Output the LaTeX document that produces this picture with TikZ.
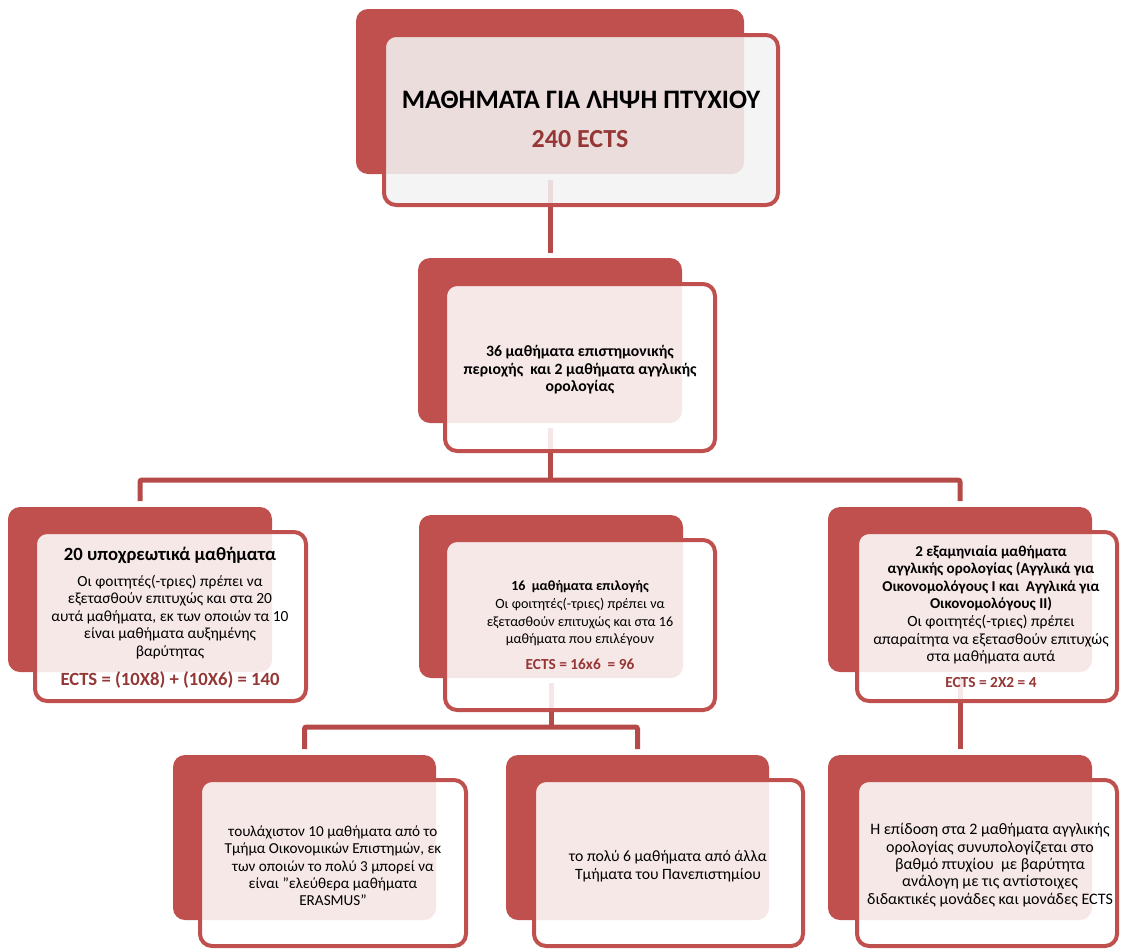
\documentclass[tikz,border=0pt]{standalone}
\usepackage{fontspec}
\setmainfont{Carlito}
\usetikzlibrary{calc}
\definecolor{boxred}{RGB}{192,80,77}
\definecolor{connred}{RGB}{181,74,72}
\definecolor{ectsred}{RGB}{149,55,53}
\definecolor{topfill}{RGB}{242,242,242}
\newcommand\upx{0.75pt}
\tikzset{
  backbox/.style={fill=boxred, draw=none, rounded corners=9pt, inner sep=0pt, outer sep=0pt},
  frontbox/.style={draw=boxred, line width=3pt, fill=white, fill opacity=0.87, rounded corners=9pt, inner sep=0pt, outer sep=0pt},
  conn/.style={draw=connred, line width=3.75pt, rounded corners=1.5pt},
  txt/.style={align=center, text=black, inner sep=0pt, font=\fontsize{11}{13.1}\selectfont},
  btxt/.style={txt, font=\bfseries\fontsize{11}{13.1}\selectfont},
  ects/.style={align=center, text=ectsred, inner sep=0pt, font=\bfseries\fontsize{11.5}{13}\selectfont},
}
\begin{document}
\begin{tikzpicture}[x=0.75pt, y=-0.75pt]
\useasboundingbox (0,0) rectangle (1121,950);

% back boxes
\node[backbox, minimum width=388*\upx, minimum height=165*\upx] (b1back) at (550,91.5) {};
\node[backbox, minimum width=264*\upx, minimum height=165*\upx] (b2back) at (550,340.5) {};
\node[backbox, minimum width=264*\upx, minimum height=165*\upx] (b3back) at (140,589.5) {};
\node[backbox, minimum width=264*\upx, minimum height=163*\upx] (b4back) at (551,596.5) {};
\node[backbox, minimum width=264*\upx, minimum height=165*\upx] (b5back) at (960,589.5) {};
\node[backbox, minimum width=263*\upx, minimum height=165*\upx] (b6back) at (304.5,837.5) {};
\node[backbox, minimum width=263*\upx, minimum height=165*\upx] (b7back) at (637.5,837.5) {};
\node[backbox, minimum width=264*\upx, minimum height=165*\upx] (b8back) at (960,837.5) {};

% connectors
\coordinate (j1) at ($(b3back.north)+(0,-27)$);
\coordinate (j2) at ($(b6back.north)+(0,-28)$);
\draw[conn] ($(b1back.south)+(0,6)$) -- ($(b2back.north)+(0,-5)$);
\draw[conn] ($(b2back.south)+(0,5)$) -- (b2back.south |- j1);
\draw[conn] ($(b3back.north)+(0,-6)$) |- ($(b5back.north)+(0,-27)$) -- ($(b5back.north)+(0,-6)$);
\draw[conn] ($(b4back.south)+(0,5)$) -- (b4back.south |- j2);
\draw[conn] ($(b6back.north)+(0,-6)$) |- ($(b7back.north)+(0,-28)$) -- ($(b7back.north)+(0,-6)$);
\draw[conn] ($(b5back.south)+(0,5)$) -- ($(b8back.north)+(0,-6)$);

% front boxes
\node[frontbox, fill=topfill, minimum width=394*\upx, minimum height=170*\upx] (b1) at (581,120) {};
\node[frontbox, minimum width=270*\upx, minimum height=167*\upx] (b2) at (580,367.5) {};
\node[frontbox, minimum width=271*\upx, minimum height=169*\upx] (b3) at (170.5,616.5) {};
\node[frontbox, minimum width=270*\upx, minimum height=170*\upx] (b4) at (580,625) {};
\node[frontbox, minimum width=260*\upx, minimum height=169*\upx] (b5) at (987,616.5) {};
\node[frontbox, minimum width=266*\upx, minimum height=166*\upx] (b6) at (333,863) {};
\node[frontbox, minimum width=269*\upx, minimum height=166*\upx] (b7) at (668.5,863) {};
\node[frontbox, minimum width=260*\upx, minimum height=166*\upx] (b8) at (987,863) {};

% texts
\node[btxt, font=\bfseries\fontsize{20}{24}\selectfont] (t1a) at (581,100) {ΜΑΘΗΜΑΤΑ ΓΙΑ ΛΗΨΗ ΠΤΥΧΙΟΥ};
\node[ects, font=\bfseries\fontsize{19.5}{22}\selectfont] (t1b) at (580,139) {240 ECTS};

\node[btxt, font=\bfseries\fontsize{11.8}{13.1}\selectfont] (t2) at (580,370) {36 μαθήματα επιστημονικής\\ περιοχής \ και 2 μαθήματα αγγλικής\\ ορολογίας};

\node[btxt, font=\bfseries\fontsize{14}{16}\selectfont] (t3a) at (170,555) {20 υποχρεωτικά μαθήματα};
\node[txt, font=\fontsize{11.6}{13.1}\selectfont] (t3b) at (170,617) {Οι φοιτητές(-τριες) πρέπει να\\ εξετασθούν επιτυχώς και στα 20\\ αυτά μαθήματα, εκ των οποιών τα 10\\ είναι μαθήματα αυξημένης\\ βαρύτητας};
\node[ects, font=\bfseries\fontsize{14}{16}\selectfont] (t3c) at (170,680) {ECTS = (10X8) + (10X6) = 140};

\node[btxt, font=\bfseries\fontsize{10.5}{13.1}\selectfont] (t4a) at (580,587) {16 \ μαθήματα επιλογής};
\node[txt, font=\fontsize{10.6}{13.1}\selectfont] (t4b) at (580,622) {Οι φοιτητές(-τριες) πρέπει να\\ εξετασθούν επιτυχώς και στα 16\\ μαθήματα που επιλέγουν};
\node[ects] (t4c) at (580,664) {ECTS = 16x6 \ = 96};

\node[btxt, font=\bfseries\fontsize{11.3}{13.1}\selectfont] (t5a) at (991,578.5) {2 εξαμηνιαία μαθήματα\\ αγγλικής ορολογίας (Αγγλικά για\\ Οικονομολόγους Ι και \ Αγγλικά για\\ Οικονομολόγους ΙΙ)};
\node[txt, font=\fontsize{11.7}{13.1}\selectfont] (t5b) at (991,640) {Οι φοιτητές(-τριες) πρέπει\\ απαραίτητα να εξετασθούν επιτυχώς\\ στα μαθήματα αυτά};
\node[ects] (t5c) at (991,683) {ECTS = 2X2 = 4};

\node[txt, font=\fontsize{11.4}{13}\selectfont] (t6) at (333,866) {τουλάχιστον 10 μαθήματα από το\\ Τμήμα Οικονομικών Επιστημών, εκ\\ των οποιών το πολύ 3 μπορεί να\\ είναι "ελεύθερα μαθήματα\\ ERASMUS"};
\node[txt, font=\fontsize{11.8}{13.1}\selectfont] (t7) at (668,866) {το πολύ 6 μαθήματα από άλλα\\ Τμήματα του Πανεπιστημίου};
\node[txt, font=\fontsize{12}{13}\selectfont] (t8) at (990,865) {Η επίδοση στα 2 μαθήματα αγγλικής\\ ορολογίας συνυπολογίζεται στο\\ βαθμό πτυχίου \ με βαρύτητα\\ ανάλογη με τις αντίστοιχες\\ διδακτικές μονάδες και μονάδες ECTS};
\end{tikzpicture}
\end{document}
